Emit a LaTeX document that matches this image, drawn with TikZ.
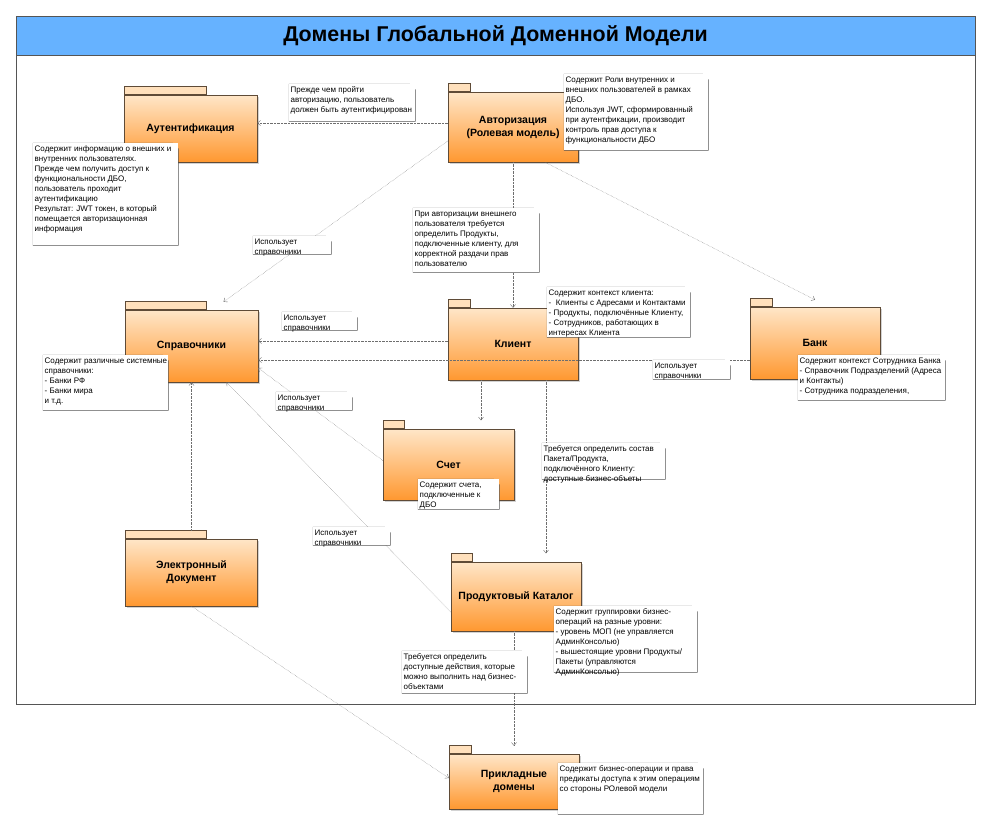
\documentclass[tikz,border=0pt]{standalone}
\usepackage{fontspec}
\setmainfont{Liberation Sans}
\usetikzlibrary{arrows.meta,shadows}

\definecolor{pkgtop}{RGB}{255,230,200}
\definecolor{pkgbot}{RGB}{255,152,48}
\definecolor{tabfill}{RGB}{255,224,188}
\definecolor{pkgline}{RGB}{95,75,55}
\definecolor{titleblue}{RGB}{102,178,255}
\definecolor{linegray}{RGB}{110,110,110}
\definecolor{notegray}{RGB}{85,85,85}

% text of a note: width and height of the box, in px
\newcommand{\notebox}[3]{\parbox[t][\dimexpr#2pt-3pt\relax][t]{\dimexpr#1pt-3pt\relax}{%
	\begin{tabular}[t]{@{}l@{}}#3\end{tabular}}}

\tikzset{
	outerframe/.style={draw=notegray, fill=white, inner sep=0pt},
	titlebar/.style={draw=notegray, fill=titleblue, inner sep=0pt, font=\fontsize{21.4}{25}\selectfont\bfseries},
	pkg/.style={draw=pkgline, top color=pkgtop, bottom color=pkgbot, align=center, inner sep=2pt,
		font=\fontsize{10.5}{13}\selectfont\bfseries,
		drop shadow={shadow xshift=1.5pt, shadow yshift=-1.5pt, opacity=0.35}},
	pkgtab/.style={draw=pkgline, fill=tabfill, anchor=south west, inner sep=0pt, minimum height=8pt, minimum width=#1},
	note/.style={fill=white, anchor=north west, inner sep=1.5pt, font=\fontsize{8}{10}\selectfont,
		append after command={\pgfextra{\draw[notegray, line width=0.5pt]
			(\tikzlastnode.north west) -- ([xshift=-6pt]\tikzlastnode.north east)
			-- ([yshift=-6pt]\tikzlastnode.north east) -- (\tikzlastnode.south east)
			-- (\tikzlastnode.south west) -- cycle
			([xshift=-6pt]\tikzlastnode.north east) |- ([yshift=-6pt]\tikzlastnode.north east);}}},
	dep/.style={draw=linegray, densely dotted, -{Straight Barb[length=3pt,width=5pt]}}
}

\begin{document}
\begin{tikzpicture}[x=1pt,y=-1pt]
\useasboundingbox (0,0) rectangle (991,822);

\node[outerframe, minimum width=959pt, minimum height=688pt] (frame) at (495.5,360) {};
\node[titlebar, minimum width=959pt, minimum height=39pt] (title) at (495.5,35.5) {Домены Глобальной Доменной Модели};

% packages
\node[pkg, minimum width=133pt, minimum height=67pt] (authn) at (190.5,128.5) {Аутентификация};
\node[pkgtab=82pt] (authn-tab) at (authn.north west) {};
\node[pkg, minimum width=130pt, minimum height=70pt] (authz) at (513,127) {Авторизация\\(Ролевая модель)};
\node[pkgtab=22pt] (authz-tab) at (authz.north west) {};
\node[pkg, minimum width=133pt, minimum height=72pt] (sprav) at (191.5,346) {Справочники};
\node[pkgtab=81pt] (sprav-tab) at (sprav.north west) {};
\node[pkg, minimum width=130pt, minimum height=72pt] (client) at (513,344) {Клиент};
\node[pkgtab=22pt] (client-tab) at (client.north west) {};
\node[pkg, minimum width=130pt, minimum height=72pt] (bank) at (815,343) {Банк};
\node[pkgtab=22pt] (bank-tab) at (bank.north west) {};
\node[pkg, minimum width=131pt, minimum height=71pt] (account) at (448.5,464.5) {Счет};
\node[pkgtab=21pt] (account-tab) at (account.north west) {};
\node[pkg, minimum width=132pt, minimum height=67pt] (edoc) at (191.5,572.5) {Электронный\\Документ};
\node[pkgtab=81pt] (edoc-tab) at (edoc.north west) {};
\node[pkg, minimum width=130pt, minimum height=69pt] (catalog) at (516,596.5) {Продуктовый Каталог};
\node[pkgtab=21pt] (catalog-tab) at (catalog.north west) {};
\node[pkg, minimum width=130pt, minimum height=55pt] (appdom) at (514,781.5) {Прикладные\\домены};
\node[pkgtab=22pt] (appdom-tab) at (appdom.north west) {};

% dependencies
\draw[dep] (authz.west |- 0,123) -- (authn.east |- 0,123);
\draw[dep] (authz.west |- 0,141) -- ([xshift=32pt,yshift=8pt]sprav.north);
\draw[dep] (authz.south) -- (client.north);
\draw[dep] ([xshift=32pt]authz.south) -- ([yshift=7pt]bank.north);
\draw[dep] (client.west |- 0,341) -- (sprav.east |- 0,341);
\draw[dep] (bank.west |- 0,360) -- (sprav.east |- 0,360);
\draw[dep] ([yshift=4pt]account.west) -- (sprav.east |- 0,368);
\draw[dep] (catalog.west |- 0,612) -- ([xshift=35pt]sprav.south);
\draw[dep] (edoc-tab.north -| edoc.north) -- (sprav.south);
\draw[dep] ([xshift=-32pt]client.south) -- ([xshift=-32pt]client.south |- account-tab.north);
\draw[dep] ([xshift=33pt]client.south) -- ([xshift=33pt]client.south |- catalog-tab.north);
\draw[dep] (appdom.north |- catalog.south) -- ([yshift=8pt]appdom.north);
\draw[dep] (edoc.south) -- (appdom.west |- 0,778);

% notes
\node[note] (n-authn-pre) at (289,84) {\notebox{126}{37}{Прежде чем пройти\\авторизацию, пользователь\\должен быть аутентифицирован}};
\node[note] (n-authz) at (564,74) {\notebox{144}{76}{Содержит Роли внутренних и\\внешних пользователей в рамках\\ДБО.\\Используя JWT, сформированный\\при аутентфикации, производит\\контроль прав доступа к\\функциональности ДБО}};
\node[note] (n-authn) at (33,143) {\notebox{145}{102}{Содержит информацию о внешних и\\внутренних пользователях.\\Прежде чем получить доступ к\\функциональности ДБО,\\пользователь проходит\\аутентификацию\\Результат: JWT токен, в который\\помещается авторизационная\\информация}};
\node[note] (n-uses-authz) at (253,236) {\notebox{78}{18}{Использует\\справочники}};
\node[note] (n-products) at (413,208) {\notebox{126}{64}{При авторизации внешнего\\пользователя требуется\\определить Продукты,\\подключенные клиенту, для\\корректной раздачи прав\\пользователю}};
\node[note] (n-uses-client) at (282,312) {\notebox{75}{18}{Использует\\справочники}};
\node[note] (n-sprav) at (43,355) {\notebox{125}{55}{Содержит различные системные\\справочники:\\- Банки РФ\\- Банки мира\\и т.д.}};
\node[note] (n-client) at (547,287) {\notebox{143}{50}{Содержит контекст клиента:\\-\ \ Клиенты с Адресами и Контактами\\- Продукты, подключённые Клиенту,\\- Сотрудников, работающих в\\интересах Клиента}};
\node[note] (n-uses-bank) at (653,360) {\notebox{77}{19}{Использует\\справочники}};
\node[note] (n-bank) at (798,355) {\notebox{147}{45}{Содержит контекст Сотрудника Банка\\- Справочник Подразделений (Адреса\\и Контакты)\\- Сотрудника подразделения,}};
\node[note] (n-uses-account) at (276,392) {\notebox{76}{18}{Использует\\справочники}};
\node[note] (n-account) at (418,479) {\notebox{81}{30}{Содержит счета,\\подключенные к\\ДБО}};
\node[note] (n-package) at (542,443) {\notebox{123}{36}{Требуется определить состав\\Пакета/Продукта,\\подключённого Клиенту:\\доступные бизнес-объеты}};
\node[note] (n-uses-catalog) at (313,527) {\notebox{77}{18}{Использует\\справочники}};
\node[note] (n-catalog) at (554,606) {\notebox{143}{66}{Содержит группировки бизнес-\\операций на разные уровни:\\- уровень МОП (не управляется\\АдминКонсолью)\\- вышестоящие уровни Продукты/\\Пакеты (управляются\\АдминКонсолью)}};
\node[note] (n-actions) at (402,651) {\notebox{125}{42}{Требуется определить\\доступные действия, которые\\можно выполнить над бизнес-\\объектами}};
\node[note] (n-appdom) at (558,763) {\notebox{145}{51}{Содержит бизнес-операции и права\\предикаты доступа к этим операциям\\со стороны РОлевой модели}};
\end{tikzpicture}
\end{document}
